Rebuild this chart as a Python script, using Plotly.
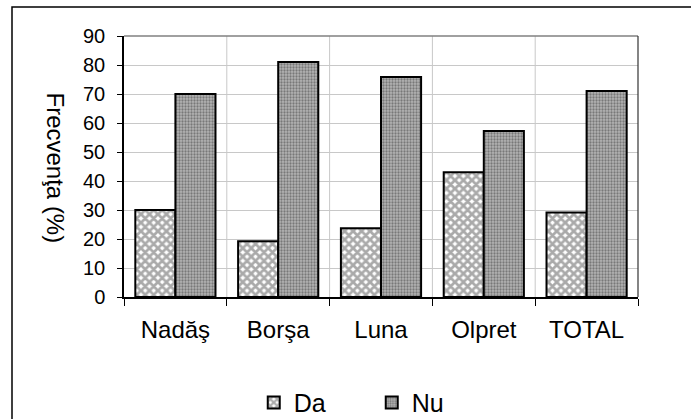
import plotly.graph_objects as go

# Data
categories = ["Nadăş", "Borşa", "Luna", "Olpret", "TOTAL"]
da_values = [30.0, 19.2, 23.7, 43.0, 29.1]
nu_values = [70.0, 81.0, 75.9, 57.2, 71.0]
y_ticks = [0, 10, 20, 30, 40, 50, 60, 70, 80, 90]

W, H = 691, 419
L, R, T, B = 124, 53, 36, 122
pw, ph = W - L - R, H - T - B

fig = go.Figure()

fig.add_trace(
    go.Bar(
        x=categories,
        y=da_values,
        name="Da",
        marker=dict(
            color="white",
            line=dict(color="black", width=2),
            pattern=dict(shape="x", fgcolor="#555555", bgcolor="white", size=6, solidity=0.7),
        ),
    )
)
fig.add_trace(
    go.Bar(
        x=categories,
        y=nu_values,
        name="Nu",
        marker=dict(
            color="#999999",
            line=dict(color="black", width=2),
            pattern=dict(shape=".", fgcolor="#3c3c3c", bgcolor="#b4b4b4", size=3, solidity=0.45),
        ),
    )
)

fig.update_layout(
    width=W,
    height=H,
    margin=dict(l=L, r=R, t=T, b=B, autoexpand=False),
    barmode="group",
    bargap=0.22,
    bargroupgap=0,
    plot_bgcolor="white",
    paper_bgcolor="white",
    font=dict(family="Liberation Sans, Arial, sans-serif", color="black"),
    showlegend=True,
    legend=dict(
        orientation="h",
        x=0.482,
        xanchor="center",
        y=-0.405,
        yanchor="middle",
        font=dict(size=25),
        itemwidth=30,
        entrywidth=73,
        entrywidthmode="pixels",
        tracegroupgap=0,
    ),
)

fig.update_xaxes(
    range=[-0.5, 4.5],
    showgrid=False,
    showline=True,
    linecolor="black",
    linewidth=1.5,
    ticks="outside",
    ticklen=7,
    tickcolor="black",
    tickson="boundaries",
    tickfont=dict(size=24),
    ticklabelstandoff=10,
)
fig.update_yaxes(
    range=[0, 90],
    tickvals=y_ticks,
    showgrid=True,
    gridcolor="#c8c8c8",
    gridwidth=1,
    showline=True,
    linecolor="black",
    linewidth=1.5,
    ticks="outside",
    ticklen=5,
    tickcolor="black",
    tickfont=dict(size=20),
    ticklabelstandoff=8,
    zeroline=False,
)

# vertical gridlines at category boundaries
for i in range(1, 5):
    fig.add_shape(
        type="line", xref="x", yref="y", x0=i - 0.5, x1=i - 0.5, y0=0, y1=90,
        line=dict(color="#c8c8c8", width=1), layer="below",
    )

# plot area border (top and right)
fig.add_shape(
    type="line", xref="paper", yref="paper", x0=0, x1=1, y0=1, y1=1,
    line=dict(color="#808080", width=1.5),
)
fig.add_shape(
    type="line", xref="paper", yref="paper", x0=1, x1=1, y0=0, y1=1,
    line=dict(color="#333333", width=1.2),
)

# outer chart frame
fx0 = (12 - L) / pw
fy1 = (H - B - 7) / ph
fig.add_shape(
    type="rect", xref="paper", yref="paper", x0=fx0, x1=1.3, y0=-0.7, y1=fy1,
    line=dict(color="black", width=1.5), fillcolor="rgba(0,0,0,0)",
)

# y-axis title, reading top to bottom
fig.add_annotation(
    text="Frecvenţa (%)",
    xref="paper", yref="paper",
    x=(40 - L) / pw, y=(H - B - 168) / ph,
    textangle=90,
    showarrow=False,
    font=dict(size=24),
)

fig.write_html(
    "out.html",
    config={"displayModeBar": False},
    post_script="document.body.style.margin='0';document.body.style.padding='0';",
)
